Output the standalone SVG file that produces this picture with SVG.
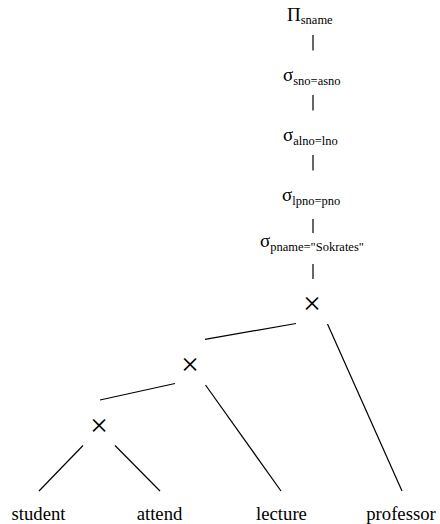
<svg xmlns="http://www.w3.org/2000/svg" width="440" height="524" viewBox="0 0 440 524">
<style>
.op{font-size:19px}
.sub{font-size:12.5px}
.x{font-size:32px;text-anchor:middle}
.leaf{font-size:18.7px;text-anchor:middle}
.c line{stroke:#000;stroke-width:1.2;fill:none}
</style>
<rect width="440" height="524" fill="#fff"/>
<g class="c" id="connectors">
<line x1="313" y1="35" x2="313" y2="50.5"/>
<line x1="313" y1="95" x2="313" y2="110.5"/>
<line x1="313" y1="155" x2="313" y2="170.5"/>
<line x1="313" y1="219" x2="313" y2="233"/>
<line x1="313" y1="264" x2="313" y2="279"/>
<line x1="296" y1="323.5" x2="205" y2="339.3"/>
<line x1="327.5" y1="324" x2="402" y2="491"/>
<line x1="175" y1="383.5" x2="100" y2="400"/>
<line x1="205.5" y1="385" x2="281" y2="491"/>
<line x1="83" y1="445.5" x2="39" y2="491"/>
<line x1="115" y1="445.5" x2="160" y2="491"/>
</g>
<g font-family="Liberation Serif, DejaVu Serif, serif" fill="#000">
<g id="proj"><text class="op" x="287" y="21">Π<tspan class="sub" dy="3">sname</tspan></text></g>
<g id="sel1"><text class="op" x="283" y="81">σ<tspan class="sub" dy="4">sno=asno</tspan></text></g>
<g id="sel2"><text class="op" x="283" y="141">σ<tspan class="sub" dy="4">alno=lno</tspan></text></g>
<g id="sel3"><text class="op" x="282" y="201">σ<tspan class="sub" dy="4">lpno=pno</tspan></text></g>
<g id="sel4"><text class="op" x="260" y="247">σ<tspan class="sub" dy="4">pname="Sokrates"</tspan></text></g>
<g id="cross1"><text class="x" x="312" y="314">×</text></g>
<g id="cross2"><text class="x" x="190" y="374.5">×</text></g>
<g id="cross3"><text class="x" x="99" y="436">×</text></g>
<g id="student"><text class="leaf" x="38.5" y="520">student</text></g>
<g id="attend"><text class="leaf" x="159.5" y="520">attend</text></g>
<g id="lecture"><text class="leaf" x="281.5" y="520">lecture</text></g>
<g id="professor"><text class="leaf" x="401" y="520">professor</text></g>
</g>
</svg>
